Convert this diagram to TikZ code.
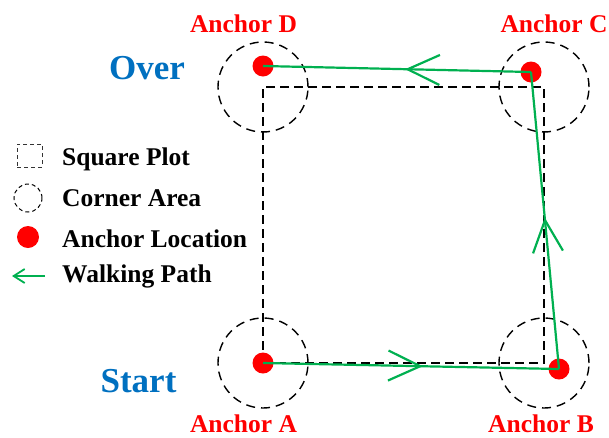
\documentclass[tikz,border=0pt]{standalone}
\usepackage{fontspec}
\setmainfont{Liberation Serif}
\usetikzlibrary{arrows.meta,decorations.markings}
\definecolor{pathgreen}{RGB}{0,176,80}
\definecolor{anchorred}{RGB}{255,0,0}
\definecolor{textblue}{RGB}{0,112,192}
\tikzset{
  plotline/.style={draw=black,line width=1.4pt,dash pattern=on 9pt off 5pt},
  cornerarea/.style={circle,draw=black,line width=1.4pt,dash pattern=on 9pt off 6pt,minimum size=90pt,inner sep=0pt},
  anchordot/.style={circle,fill=anchorred,minimum size=21pt,inner sep=0pt},
  walk/.style={draw=pathgreen,line width=2.2pt},
  walkbarb/.tip={Straight Barb[length=32pt,width=30pt,line width=2.2pt]},
  anchorlabel/.style={text=anchorred,font=\fontsize{25.5}{28}\selectfont\bfseries,anchor=base,inner sep=0pt},
  phaselabel/.style={text=textblue,font=\fontsize{35}{38}\selectfont\bfseries,anchor=base,inner sep=0pt},
  legendtext/.style={font=\fontsize{25.5}{28}\selectfont\bfseries,anchor=base west,inner sep=0pt},
  walkmark/.style={postaction={decorate,decoration={markings,mark=at position #1 with {\arrow[pathgreen]{walkbarb}}}}}
}
\begin{document}
\begin{tikzpicture}[x=1pt,y=-1pt]
\useasboundingbox (0,0) rectangle (609,437);
% square plot
\coordinate (SA) at (263,363);
\coordinate (SB) at (544,363);
\coordinate (SC) at (544,87);
\coordinate (SD) at (263,87);
\draw[plotline] (SA) -- (SB) -- (SC) -- (SD) -- cycle;
% corner areas
\node[cornerarea] (CA) at (SA) {};
\node[cornerarea] (CB) at (SB) {};
\node[cornerarea] (CC) at (SC) {};
\node[cornerarea] (CD) at (SD) {};
% anchors
\node[anchordot] (A) at (263,363) {};
\node[anchordot] (B) at (559,369) {};
\node[anchordot] (C) at (531,72) {};
\node[anchordot] (D) at (263,66) {};
% walking path
\draw[walk,walkmark=0.54] (A.center) -- (B.center);
\draw[walk,walkmark=0.51] (B.center) -- (C.center);
\draw[walk,walkmark=0.47] (C.center) -- (D.center);
% labels
\node[anchorlabel] (LA) at (243.5,432) {Anchor A};
\node[anchorlabel] (LB) at (541,432) {Anchor B};
\node[anchorlabel] (LC) at (554,32) {Anchor C};
\node[anchorlabel] (LD) at (243.5,32) {Anchor D};
\node[phaselabel] (over) at (147,79) {Over};
\node[phaselabel] (start) at (138.5,392) {Start};
% legend
\node[draw=black!80,line width=1pt,dash pattern=on 4pt off 3pt,minimum width=25pt,minimum height=23pt,inner sep=0pt] (k1) at (29.5,155.5) {};
\node[circle,draw=black,line width=1pt,dash pattern=on 4pt off 3pt,minimum size=28pt,inner sep=0pt] (k2) at (28,198) {};
\node[circle,fill=anchorred,minimum size=22pt,inner sep=0pt] (k3) at (28,237) {};
\coordinate (k4s) at (45,276);
\coordinate (k4e) at (12,276);
\draw[pathgreen,line width=1.8pt,-{Straight Barb[length=11pt,width=14pt]}] (k4s) -- (k4e);
\node[legendtext] (t1) at (62,165) {Square Plot};
\node[legendtext] (t2) at (62,206) {Corner Area};
\node[legendtext] (t3) at (62,247) {Anchor Location};
\node[legendtext] (t4) at (62,282) {Walking Path};
\end{tikzpicture}
\end{document}
